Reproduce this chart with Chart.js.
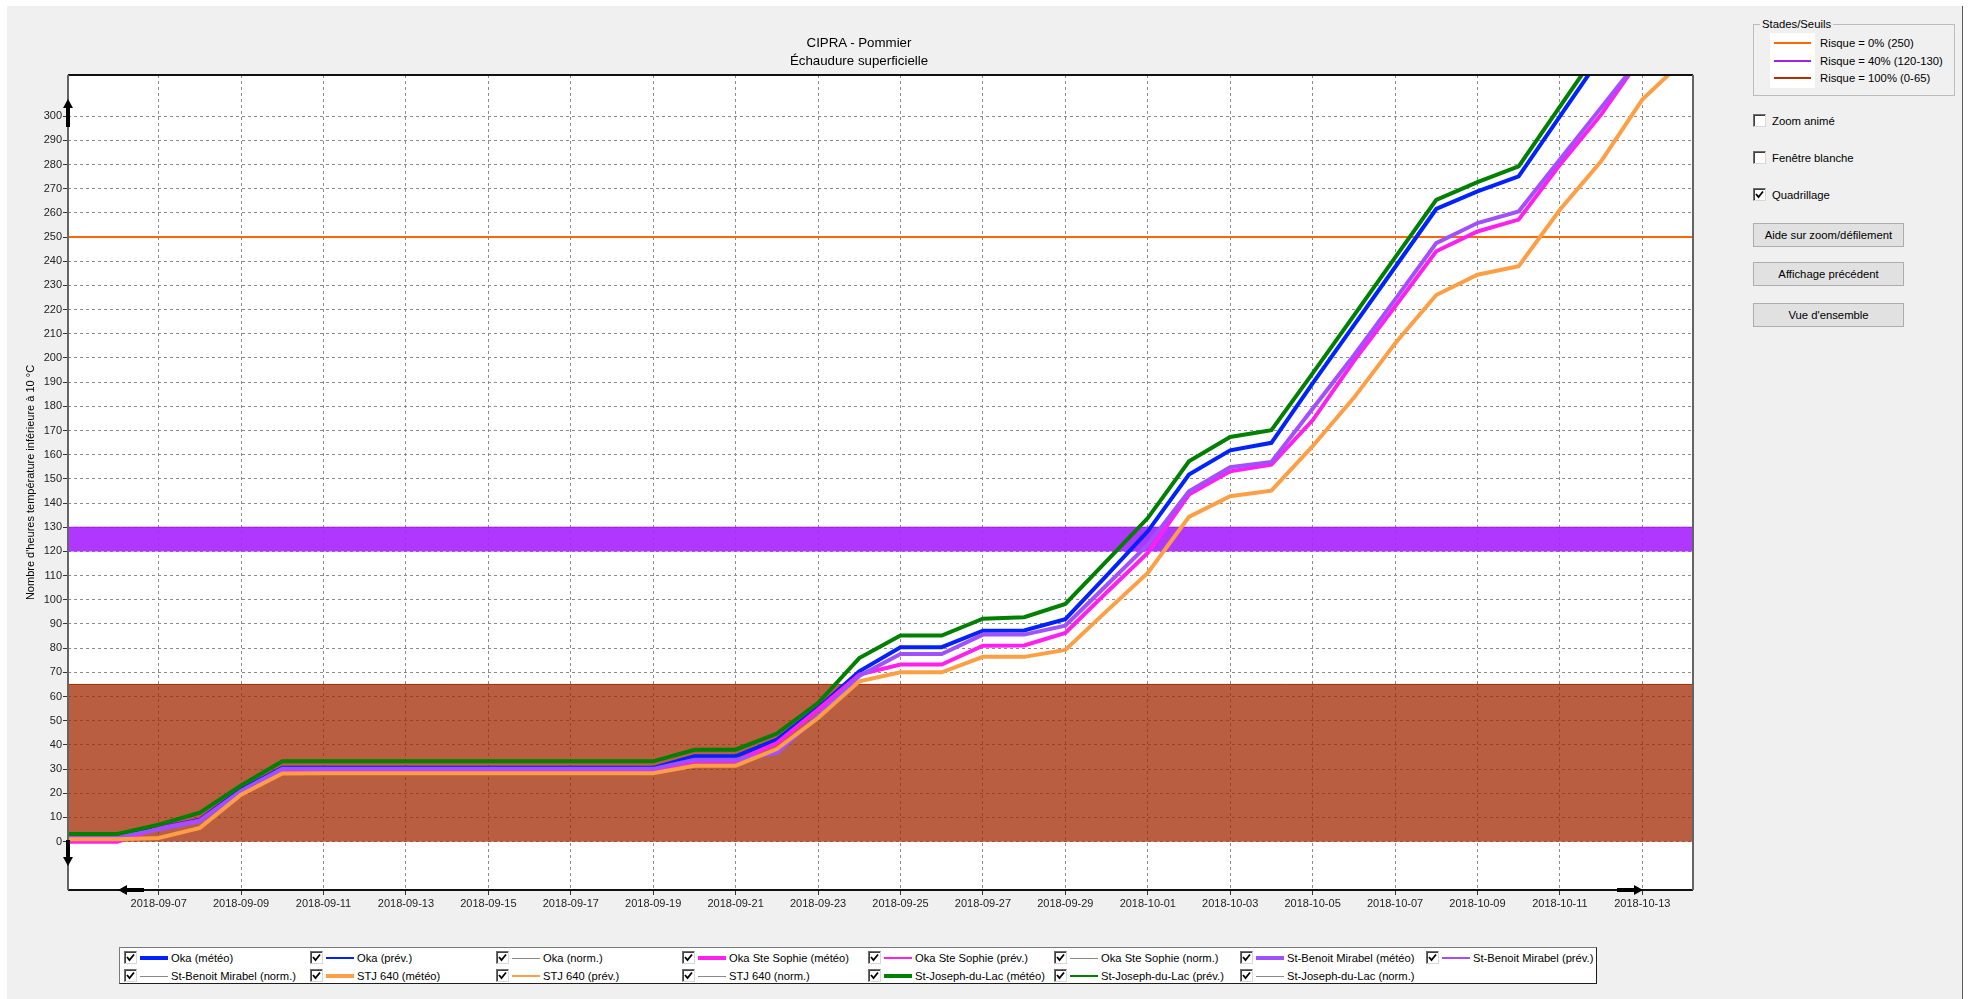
<!DOCTYPE html>
<html lang="fr">
<head>
<meta charset="utf-8">
<title>CIPRA - Pommier</title>
<script src="https://cdn.jsdelivr.net/npm/chart.js@4.4.0/dist/chart.umd.min.js"></script>
<style>
    html, body { margin: 0; padding: 0; background: #fff; }
    body { width: 1974px; height: 999px; overflow: hidden; position: relative; font-family: "Liberation Sans", Arial, sans-serif; color: #000; }
    #fenetre { position: absolute; left: 7px; top: 6px; width: 1955px; height: 993px; background: #f0f0f0; border-right: 1px solid #5a5a5a; }
    #graphique { position: absolute; left: 0; top: 0; }
    .titre { position: absolute; left: 659px; top: 34px; width: 400px; text-align: center; font-size: 13.3px; line-height: 18px; }
    .case { position: absolute; width: 11px; height: 11px; background: #fff; border: 1px solid; border-color: #6d6d6d #d8d8d8 #d8d8d8 #6d6d6d; box-shadow: inset 1px 1px 0 #404040; }
    .case svg { position: absolute; left: 0; top: 0; }
    .groupe { position: absolute; left: 1753px; top: 24px; width: 200px; height: 70px; border: 1px solid #bcbcbc; }
    .groupe-titre { position: absolute; left: 1760px; top: 17px; padding: 0 2px; background: #f0f0f0; font-size: 11.3px; line-height: 14px; }
    .seuils-fond { position: absolute; left: 1770px; top: 33px; width: 45px; height: 55px; background: #fff; }
    .seuil-trait { position: absolute; left: 1774px; width: 37px; height: 2px; }
    .seuil-texte { position: absolute; left: 1820px; font-size: 11.3px; line-height: 14px; white-space: nowrap; }
    .option { position: absolute; left: 1772px; font-size: 11.3px; line-height: 14px; }
    .bouton { position: absolute; left: 1753px; width: 149px; height: 22px; background: #e1e1e1; border: 1px solid #adadad; font-size: 11.3px; line-height: 22px; text-align: center; }
    #legende { position: absolute; left: 119px; top: 947px; width: 1476px; height: 35px; background: #fff; border: 1px solid; border-color: #7a7a7a #1e1e1e #1e1e1e #7a7a7a; }
    .entree { position: absolute; height: 14px; width: 186px; font-size: 11.2px; line-height: 14px; white-space: nowrap; }
    .entree .case { left: 0; top: 0; }
    .entree .trait { position: absolute; left: 16px; width: 28px; }
    .entree .nom { position: absolute; left: 47px; top: 0; }
</style>
</head>
<body>
<div id="fenetre"></div>
<canvas id="graphique" width="1700" height="930"></canvas>
<div class="titre">CIPRA - Pommier<br>Échaudure superficielle</div>
<div id="panneau"></div>
<div id="legende"></div>

<script>
// ===== Données =====

// une date par point, index 0 = 2018-09-04
const DATES = [
    '2018-09-04', '2018-09-05', '2018-09-06', '2018-09-07', '2018-09-08', '2018-09-09', '2018-09-10',
    '2018-09-11', '2018-09-12', '2018-09-13', '2018-09-14', '2018-09-15', '2018-09-16', '2018-09-17',
    '2018-09-18', '2018-09-19', '2018-09-20', '2018-09-21', '2018-09-22', '2018-09-23', '2018-09-24',
    '2018-09-25', '2018-09-26', '2018-09-27', '2018-09-28', '2018-09-29', '2018-09-30', '2018-10-01',
    '2018-10-02', '2018-10-03', '2018-10-04', '2018-10-05', '2018-10-06', '2018-10-07', '2018-10-08',
    '2018-10-09', '2018-10-10', '2018-10-11', '2018-10-12', '2018-10-13', '2018-10-14'
];

// dates affichées sur l'axe horizontal
const DATES_AXE = [
    '2018-09-07', '2018-09-09', '2018-09-11', '2018-09-13', '2018-09-15', '2018-09-17', '2018-09-19',
    '2018-09-21', '2018-09-23', '2018-09-25', '2018-09-27', '2018-09-29', '2018-10-01', '2018-10-03',
    '2018-10-05', '2018-10-07', '2018-10-09', '2018-10-11', '2018-10-13'
];

// graduations de l'axe vertical
const GRADUATIONS_Y = [0, 10, 20, 30, 40, 50, 60, 70, 80, 90, 100, 110, 120, 130, 140, 150,
    160, 170, 180, 190, 200, 210, 220, 230, 240, 250, 260, 270, 280, 290, 300];

// heures cumulées sous 10 °C (météo)
const OKA_METEO = [2.2, 2.2, 2.2, 5.7, 9.1, 21.5, 30.5, 30.5, 30.5, 30.5, 30.5, 30.5, 30.5, 30.5, 30.5, 30.5,
    35.3, 35.3, 42.2, 55.3, 70.4, 80.4, 80.4, 87.2, 87.3, 92, 110, 128.3, 151.8, 161.8, 164.9,
    189.5, 213.5, 237.5, 261.6, 268.9, 275.1, 299.9, 324.6];
const OKA_STE_SOPHIE_METEO = [0, 0, 0, 5.5, 8.8, 20.8, 29.8, 29.8, 29.8, 29.8, 29.8, 29.8, 29.8, 29.8, 29.8, 29.8,
    33.2, 33.2, 40.8, 54.6, 69.1, 73.2, 73.2, 81, 81.1, 86.3, 103, 119.4, 143.5, 153.1, 155.9,
    174.2, 198.7, 221.3, 244.1, 252.3, 257.2, 279.9, 300.6, 325];
const ST_BENOIT_METEO = [1.5, 1.5, 1.8, 5, 8.4, 21, 30.1, 30.1, 30.1, 30.1, 30.1, 30.1, 30.1, 30.1, 30.1, 30.1,
    33.9, 33.9, 36.6, 52, 68.5, 77.6, 77.6, 85.6, 85.6, 89.3, 106, 122.8, 144.9, 154.8, 157,
    179, 201, 224.1, 247.5, 255.8, 260.6, 282.1, 303.5, 325];
const STJ640_METEO = [1, 1, 1, 1.5, 5.7, 19.4, 28.2, 28.3, 28.3, 28.3, 28.3, 28.3, 28.3, 28.3, 28.3, 28.3,
    31.4, 31.4, 38.3, 51.1, 66.3, 70, 70, 76.4, 76.4, 79.3, 95.3, 111.1, 134.3, 142.8, 145.1,
    163.5, 183.5, 206, 226, 234.4, 237.9, 261.3, 281.3, 306.8, 323];
const ST_JOSEPH_METEO = [3.2, 3.2, 3.2, 7, 12, 23.2, 33.2, 33.2, 33.2, 33.2, 33.2, 33.2, 33.2, 33.2, 33.2, 33.2,
    38, 38, 44.7, 57.3, 75.9, 85.2, 85.2, 92.2, 92.8, 98.3, 116, 133.8, 157.3, 167.3, 170.1,
    193.6, 217.5, 241.5, 265.4, 272.7, 279.2, 303.9, 328.6];

// seuils de risque
const SEUIL_0 = [250];
const SEUIL_40 = [120, 130];
const SEUIL_100 = [0, 65];

const STATIONS = ['Oka', 'Oka Ste Sophie', 'St-Benoit Mirabel', 'STJ 640', 'St-Joseph-du-Lac'];
const SERIES_METEO = [OKA_METEO, OKA_STE_SOPHIE_METEO, ST_BENOIT_METEO, STJ640_METEO, ST_JOSEPH_METEO];
const COULEURS = ['#0022ff', '#ff20f0', '#a050ff', '#ff9f45', '#008000'];

// bornes des axes
const X_MIN = 0.8, X_MAX = 40.23;
const Y_MIN = -20, Y_MAX = 317;

const POLICE = 'Liberation Sans, Arial, sans-serif';

// ===== Outils =====

function caseACocher(x, y, cochee) {
    const coche = cochee ? '<svg width="11" height="11"><path d="M2 5 L4.5 8 L9 2.5" fill="none" stroke="#000" stroke-width="1.8"/></svg>' : '';
    return `<div class="case" style="left:${x}px;top:${y}px;">${coche}</div>`;
}

function fleche(ctx, x1, y1, x2, y2) {
    const ang = Math.atan2(y2 - y1, x2 - x1);
    const long = Math.hypot(x2 - x1, y2 - y1);
    ctx.save();
    ctx.translate(x1, y1);
    ctx.rotate(ang);
    ctx.fillStyle = '#000';
    ctx.fillRect(0, -2, long - 8, 4);
    ctx.beginPath();
    ctx.moveTo(long, 0);
    ctx.lineTo(long - 9, -5);
    ctx.lineTo(long - 9, 5);
    ctx.closePath();
    ctx.fill();
    ctx.restore();
}

// fond blanc, cadre et flèches de défilement
const cadre = {
    id: 'cadre',
    beforeDraw(chart) {
        const { ctx, chartArea: a } = chart;
        ctx.save();
        ctx.fillStyle = '#fff';
        ctx.fillRect(a.left, a.top, a.right - a.left, a.bottom - a.top);
        ctx.restore();
    },
    afterDraw(chart) {
        const { ctx, chartArea: a } = chart;
        ctx.save();
        ctx.lineWidth = 2;
        ctx.strokeStyle = '#111';
        ctx.beginPath();
        ctx.moveTo(a.left, a.top); ctx.lineTo(a.right, a.top);
        ctx.moveTo(a.left, a.bottom); ctx.lineTo(a.right, a.bottom);
        ctx.stroke();
        ctx.strokeStyle = '#646464';
        ctx.beginPath();
        ctx.moveTo(a.left, a.top); ctx.lineTo(a.left, a.bottom);
        ctx.moveTo(a.right, a.top); ctx.lineTo(a.right, a.bottom);
        ctx.stroke();
        ctx.restore();

        fleche(ctx, a.left, a.top + 52, a.left, a.top + 24);
        fleche(ctx, a.left, a.bottom - 50, a.left, a.bottom - 24);
        fleche(ctx, a.left + 76, a.bottom, a.left + 50, a.bottom);
        fleche(ctx, a.right - 76, a.bottom, a.right - 50, a.bottom);
    }
};

// ===== Graphique =====
function creerGraphique() {
    const ctx = document.getElementById('graphique').getContext('2d');

    const courbes = SERIES_METEO.map((valeurs, i) => ({
        label: STATIONS[i] + ' (météo)',
        data: valeurs.map((y, x) => ({ x, y })),
        borderColor: COULEURS[i],
        borderWidth: 4,
        pointRadius: 0,
        fill: false,
        clip: 0,
        order: STATIONS.length - i
    }));

    const seuils = [
        {
            label: 'Risque = 0% (250)',
            data: [{ x: X_MIN, y: SEUIL_0[0] }, { x: X_MAX, y: SEUIL_0[0] }],
            borderColor: '#ff6600', borderWidth: 2, pointRadius: 0, fill: false, clip: 0, order: 10
        },
        {
            label: 'Risque = 40% (120-130)',
            data: [{ x: X_MIN, y: SEUIL_40[1] }, { x: X_MAX, y: SEUIL_40[1] }],
            borderColor: '#9a10ff', borderWidth: 1, pointRadius: 0,
            fill: { value: SEUIL_40[0] }, backgroundColor: 'rgba(169, 38, 255, 0.92)', clip: 0, order: 11
        },
        {
            label: 'Risque = 100% (0-65)',
            data: [{ x: X_MIN, y: SEUIL_100[1] }, { x: X_MAX, y: SEUIL_100[1] }],
            borderColor: '#a02a00', borderWidth: 1, pointRadius: 0,
            fill: { value: SEUIL_100[0] }, backgroundColor: 'rgba(162, 40, 0, 0.75)', clip: 0, order: 12
        }
    ];

    // quadrillage pointillé (en v4 le tiret vient de border.dash)
    const grille = {
        color: '#8c8c8c',
        lineWidth: 1,
        tickLength: 5,
        tickColor: '#333',
        tickBorderDash: [],
        tickWidth: 1
    };
    const bord = { display: false, dash: [3, 3] };

    new Chart(ctx, {
        type: 'line',
        data: { datasets: [...courbes, ...seuils] },
        options: {
            responsive: false,
            animation: false,
            events: [],
            layout: { padding: { top: 75, right: 7, left: 0, bottom: 0 } },
            plugins: {
                legend: { display: false },
                tooltip: { enabled: false }
            },
            scales: {
                x: {
                    type: 'linear',
                    min: X_MIN,
                    max: X_MAX,
                    afterFit: (s) => { s.height = 40; },
                    afterBuildTicks: (s) => { s.ticks = DATES_AXE.map(d => ({ value: DATES.indexOf(d) })); },
                    ticks: {
                        autoSkip: false,
                        maxRotation: 0,
                        padding: 2,
                        color: '#222',
                        font: { family: POLICE, size: 11 },
                        callback: (v) => DATES[v]
                    },
                    grid: grille,
                    border: bord
                },
                y: {
                    min: Y_MIN,
                    max: Y_MAX,
                    afterFit: (s) => { s.width = 68; },
                    afterBuildTicks: (s) => { s.ticks = GRADUATIONS_Y.map(v => ({ value: v })); },
                    ticks: {
                        padding: 1,
                        color: '#222',
                        font: { family: POLICE, size: 11 },
                        callback: (v) => String(v)
                    },
                    grid: grille,
                    border: bord,
                    title: {
                        display: true,
                        text: "Nombre d'heures température inférieure à 10 °C",
                        color: '#000',
                        font: { family: POLICE, size: 11 },
                        padding: { top: 24, bottom: 0 }
                    }
                }
            }
        },
        plugins: [cadre]
    });
}

// ===== Panneau de droite =====
function creerPanneau() {
    const lignes = [
        { texte: 'Risque = 0% (' + SEUIL_0[0] + ')', couleur: '#ff6600', y: 43 },
        { texte: 'Risque = 40% (' + SEUIL_40.join('-') + ')', couleur: '#a020f0', y: 61 },
        { texte: 'Risque = 100% (' + SEUIL_100.join('-') + ')', couleur: '#b03000', y: 78 }
    ];

    let html = '<div class="groupe"></div><div class="groupe-titre">Stades/Seuils</div><div class="seuils-fond"></div>';
    lignes.forEach(l => {
        html += `<div class="seuil-trait" style="top:${l.y - 1}px;background:${l.couleur}"></div>`;
        html += `<div class="seuil-texte" style="top:${l.y - 7}px">${l.texte}</div>`;
    });

    const options = [
        { texte: 'Zoom animé', y: 114, cochee: false },
        { texte: 'Fenêtre blanche', y: 151, cochee: false },
        { texte: 'Quadrillage', y: 188, cochee: true }
    ];
    options.forEach(o => {
        html += caseACocher(1753, o.y, o.cochee);
        html += `<div class="option" style="top:${o.y}px">${o.texte}</div>`;
    });

    const boutons = [
        { texte: 'Aide sur zoom/défilement', y: 223 },
        { texte: 'Affichage précédent', y: 262 },
        { texte: "Vue d'ensemble", y: 303 }
    ];
    boutons.forEach(b => {
        html += `<div class="bouton" style="top:${b.y}px">${b.texte}</div>`;
    });

    document.getElementById('panneau').innerHTML = html;
}

// ===== Légende du bas (5 stations x 3 types) =====
function creerLegende() {
    const types = [
        { suffixe: ' (météo)', epaisseur: 4, gris: false },
        { suffixe: ' (prév.)', epaisseur: 2, gris: false },
        { suffixe: ' (norm.)', epaisseur: 1, gris: true }
    ];

    const entrees = [];
    STATIONS.forEach((st, i) => {
        types.forEach(t => {
            entrees.push({
                nom: st + t.suffixe,
                couleur: t.gris ? '#8a8a8a' : COULEURS[i],
                epaisseur: t.epaisseur
            });
        });
    });

    document.getElementById('legende').innerHTML = entrees.map((e, k) => {
        const col = k % 8;
        const rang = Math.floor(k / 8);
        const haut = 7 - e.epaisseur / 2;
        return `
            <div class="entree" style="left:${4 + col * 186}px;top:${3 + rang * 18}px">
                ${caseACocher(0, 0, true)}
                <div class="trait" style="top:${haut}px;height:${e.epaisseur}px;background:${e.couleur}"></div>
                <div class="nom">${e.nom}</div>
            </div>
        `;
    }).join('');
}

function init() {
    Chart.defaults.font.family = POLICE;
    creerGraphique();
    creerPanneau();
    creerLegende();
}

document.addEventListener('DOMContentLoaded', init);
</script>
</body>
</html>
